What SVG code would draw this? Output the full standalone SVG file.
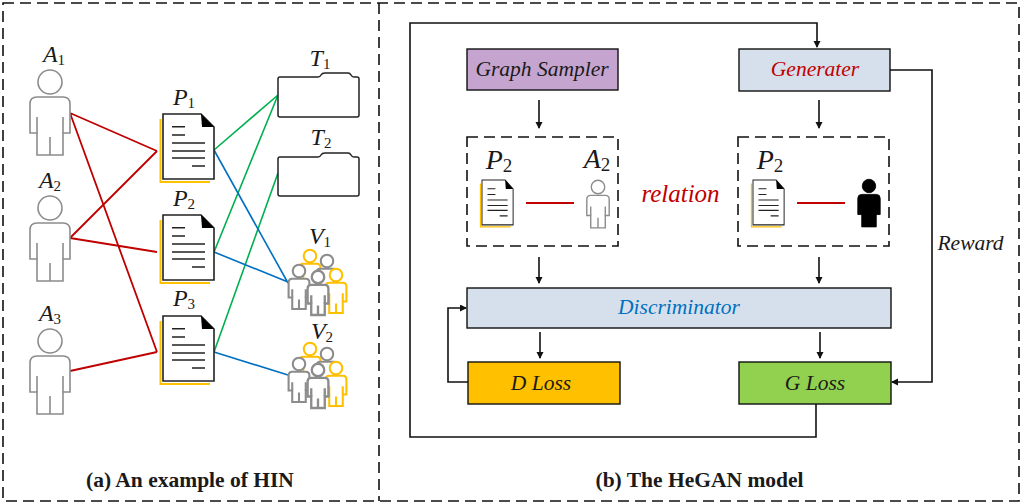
<svg xmlns="http://www.w3.org/2000/svg" width="1023" height="504" viewBox="0 0 1023 504">
<style>
text{font-family:"Liberation Serif","Times New Roman",serif;fill:#1a1a1a}
.sym{font-style:italic;font-size:24px;text-anchor:middle}
.sub{font-style:normal;font-size:15px}
.sym2{font-style:italic;font-size:28px;text-anchor:middle}
.sub2{font-style:normal;font-size:19px}
.box{font-style:italic;font-size:21.500px;text-anchor:middle}
.cap{font-weight:bold;font-size:21.500px;text-anchor:middle}
.dash{fill:none;stroke:#111;stroke-width:1.600;stroke-dasharray:11 6}
.red{stroke:#c00000;stroke-width:1.800;fill:none}
.grn{stroke:#00b050;stroke-width:1.600;fill:none}
.blu{stroke:#0070c0;stroke-width:1.600;fill:none}
.arr{stroke:#111;stroke-width:1.600;fill:none;marker-end:url(#ah)}
.grey{stroke:#8c8c8c;fill:#fff}
.gold{stroke:#ffc000;fill:#fff}
.folder{fill:#fff;stroke:#222;stroke-width:1.500;stroke-linejoin:round}
.node{stroke:#111;stroke-width:1.400}
</style>
<defs>
<marker id="ah" markerWidth="8" markerHeight="8" refX="6" refY="3.500" orient="auto" markerUnits="userSpaceOnUse"><path d="M0,0L7,3.500L0,7Z" fill="#111"/></marker>
<g id="person"><circle cx="0" cy="0" r="12"/><path d="M-13,51V73H13V51H20V22Q20,15 13,15H-13Q-20,15 -20,22V51Z"/><path d="M-13,35V51M13,35V51M0,55V73" fill="none"/></g>
<g id="doc"><path d="M-2.500,5V68H47" fill="none" stroke="#ffc000" stroke-width="2"/><path d="M0,0H38L51,13V65H0Z" fill="#fff" stroke="#222" stroke-width="1.600"/><path d="M38,0L51,13H39Z" fill="#000"/><path d="M9,12.700H22M9,21H22M9,29H42M9,37H42M9,44H42M29,52H42" stroke="#222" stroke-width="1.500" fill="none"/></g>
<g id="team"><use href="#person" class="gold" stroke-width="4" transform="translate(310,256) scale(.52)"/><use href="#person" class="grey" stroke-width="4" transform="translate(327,261) scale(.52)"/><use href="#person" class="grey" stroke-width="4" transform="translate(299,271) scale(.52)"/><use href="#person" class="gold" stroke-width="4" transform="translate(336,275) scale(.52)"/><use href="#person" class="grey" stroke-width="4.500" transform="translate(318,277) scale(.52)"/></g>
</defs>
<rect width="1023" height="504" fill="#fff"/>
<g id="frames"><rect class="dash" x="3" y="3" width="1016" height="498"/><path class="dash" d="M379,3V501"/></g>
<g id="connectors">
<path class="red" d="M70,113L157,151M70,113L157,352M70,238L157,151M70,238L157,252M70,371L157,352"/>
<path class="grn" d="M214,150L278,95M214,252L278,95M214,352L278,173"/>
<path class="blu" d="M214,150L288,283M214,252L288,282M214,352L288,375"/>
<path class="arr" d="M816,404V437H410V23H817V47"/>
<path class="arr" d="M890,70H932V382H892"/>
<path class="arr" d="M468,382H448V308H466"/>
<path class="arr" d="M539,100V128"/><path class="arr" d="M819,100V128"/>
<path class="arr" d="M539,257V283"/><path class="arr" d="M819,257V283"/>
<path class="arr" d="M540,332V358"/><path class="arr" d="M820,332V358"/>
<path class="red" stroke-width="2" d="M526,203H574M797,203H845"/>
</g>
<g id="A1"><use href="#person" class="grey" stroke-width="1.600" transform="translate(50,82)"/><text class="sym" x="54" y="62">A<tspan class="sub" dy="3">1</tspan></text></g>
<g id="A2"><use href="#person" class="grey" stroke-width="1.600" transform="translate(50,208)"/><text class="sym" x="50" y="188">A<tspan class="sub" dy="3">2</tspan></text></g>
<g id="A3"><use href="#person" class="grey" stroke-width="1.600" transform="translate(50,341)"/><text class="sym" x="50" y="321">A<tspan class="sub" dy="3">3</tspan></text></g>
<g id="P1"><use href="#doc" transform="translate(163,114)"/><text class="sym" x="184" y="105">P<tspan class="sub" dy="3">1</tspan></text></g>
<g id="P2"><use href="#doc" transform="translate(163,215)"/><text class="sym" x="184" y="206">P<tspan class="sub" dy="3">2</tspan></text></g>
<g id="P3"><use href="#doc" transform="translate(163,316)"/><text class="sym" x="184" y="306">P<tspan class="sub" dy="3">3</tspan></text></g>
<g id="T1"><path class="folder" d="M280,77H318Q320,77 321,75Q322,73 325,73H348Q350,73 351,75Q352,77 354,77H357Q359,77 359,79V115Q359,117 357,117H280Q278,117 278,115V79Q278,77 280,77Z"/><text class="sym" x="320" y="66">T<tspan class="sub" dy="3">1</tspan></text></g>
<g id="T2"><path class="folder" d="M280,157H318Q320,157 321,155Q322,153 325,153H348Q350,153 351,155Q352,157 354,157H357Q359,157 359,159V194Q359,196 357,196H280Q278,196 278,194V159Q278,157 280,157Z"/><text class="sym" x="321" y="145">T<tspan class="sub" dy="3">2</tspan></text></g>
<g id="V1"><use href="#team"/><text class="sym" x="320" y="244">V<tspan class="sub" dy="3">1</tspan></text></g>
<g id="V2"><use href="#team" transform="translate(0,93)"/><text class="sym" x="322" y="339">V<tspan class="sub" dy="3">2</tspan></text></g>
<g id="graph-sampler"><rect class="node" x="467" y="49" width="151" height="41" fill="#c5a5cf"/><text class="box" x="542" y="76">Graph Sampler</text></g>
<g id="generater"><rect class="node" x="739" y="49" width="151" height="42" fill="#d6e0ec"/><text class="box" x="815" y="76" style="fill:#c00000">Generater</text></g>
<g id="pair-real"><rect class="dash" x="467" y="137" width="151" height="109"/><use href="#doc" transform="translate(482,180) scale(.61,.69)"/><use href="#person" class="grey" stroke-width="2.500" transform="translate(598,187) scale(.56)"/><text class="sym2" x="499" y="169">P<tspan class="sub2" dy="3">2</tspan></text><text class="sym2" x="597" y="168">A<tspan class="sub2" dy="3">2</tspan></text></g>
<g id="pair-fake"><rect class="dash" x="738" y="137" width="151" height="109"/><use href="#doc" transform="translate(753,180) scale(.61,.69)"/><use href="#person" fill="#000" stroke="#000" stroke-width="1.500" transform="translate(869,186) scale(.56)"/><text class="sym2" x="770" y="169">P<tspan class="sub2" dy="3">2</tspan></text></g>
<g id="relation"><text x="680.500" y="202" text-anchor="middle" style="fill:#c00000;font-style:italic;font-size:25px">relation</text></g>
<g id="discriminator"><rect class="node" x="467" y="288" width="424" height="40" fill="#d6e0ec"/><text class="box" x="679" y="314" style="fill:#0070c0">Discriminator</text></g>
<g id="d-loss"><rect class="node" x="468" y="362" width="152" height="42" fill="#ffc000"/><text class="box" x="541" y="390">D Loss</text></g>
<g id="g-loss"><rect class="node" x="739" y="362" width="152" height="42" fill="#92d050"/><text class="box" x="815" y="390">G Loss</text></g>
<text class="box" x="970.500" y="250">Reward</text>
<text class="cap" x="190" y="487">(a) An example of HIN</text>
<text class="cap" x="699.500" y="487">(b) The HeGAN model</text>
</svg>
